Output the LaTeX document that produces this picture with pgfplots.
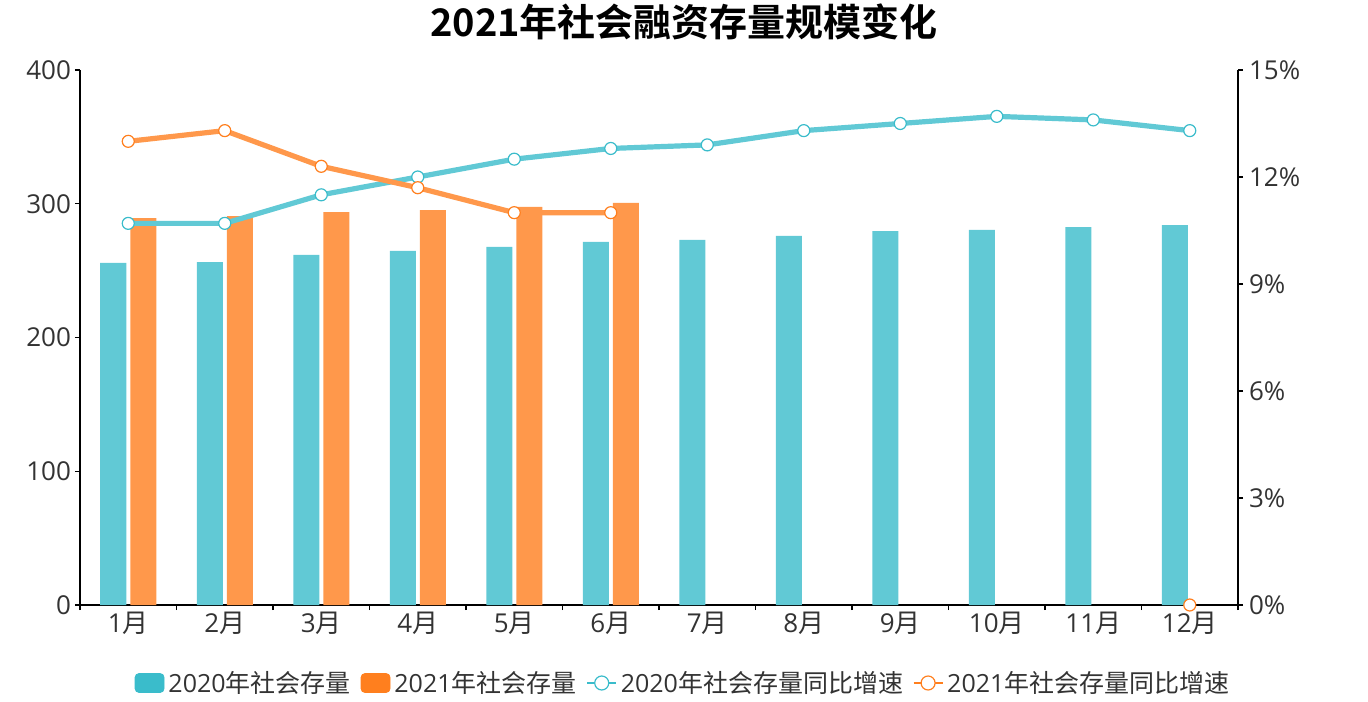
\documentclass[border=0pt]{standalone}
\usepackage{pgfplots}
\pgfplotsset{compat=1.18}
\usepackage{pgfplotstable}
\usepackage{fontspec}
\setmainfont{Open Sans}
\newfontfamily\cjk{Noto Sans CJK SC}
\newfontfamily\cjkb{Noto Sans CJK SC Bold}
\newcommand{\zh}[1]{{\cjk #1}}
\definecolor{cyanc}{HTML}{3ABCCB}
\definecolor{orangec}{HTML}{FF7F1E}
\definecolor{cyanb}{HTML}{61C9D5}
\definecolor{orangeb}{HTML}{FF984B}
\definecolor{txt}{HTML}{333333}

\pgfplotstableread{
x v
0 255.7
1 256.4
2 261.7
3 264.7
4 267.7
5 271.4
6 272.9
7 275.9
8 279.6
9 280.4
10 282.6
11 284.1
}\bartwenty
\pgfplotstableread{
x v
0 289.3
1 290.8
2 293.8
3 295.3
4 297.6
5 300.6
}\bartwentyone
\pgfplotstableread{
x v
0 10.7
1 10.7
2 11.5
3 12.0
4 12.5
5 12.8
6 12.9
7 13.3
8 13.5
9 13.7
10 13.6
11 13.3
}\growtwenty
\pgfplotstableread{
x v
0 13.0
1 13.3
2 12.3
3 11.7
4 11.0
5 11.0
6 nan
7 nan
8 nan
9 nan
10 nan
11 0
}\growtwentyone

\begin{document}
\begin{tikzpicture}
\useasboundingbox (-40pt,-48pt) rectangle (644pt,302.5pt);
\begin{axis}[
  at={(0,0)}, anchor=south west, scale only axis,
  width=579pt, height=267.5pt,
  xmin=-0.5, xmax=11.5, ymin=0, ymax=400,
  axis x line*=bottom, axis y line*=left,
  axis line style={black, line width=0.6pt},
  tick align=outside, major tick length=2.5pt,
  tick style={black, line width=0.6pt},
  xtick={-0.5,0.5,...,11.5}, xticklabels={},
  extra x ticks={0,1,...,11},
  extra x tick labels={1\zh{月},2\zh{月},3\zh{月},4\zh{月},5\zh{月},6\zh{月},7\zh{月},8\zh{月},9\zh{月},10\zh{月},11\zh{月},12\zh{月}},
  extra x tick style={major tick length=0pt},
  ytick={0,100,...,400},
  yticklabel style={xshift=1.5pt},
  /pgf/number format/assume math mode=true,
  ticklabel style={font=\fontsize{13}{15}\selectfont, text=txt},
]
\addplot[ybar, bar width=13pt, bar shift=-7.5pt, fill=cyanb, draw=none] table[x=x,y=v] {\bartwenty};
\addplot[ybar, bar width=13pt, bar shift=7.5pt, fill=orangeb, draw=none] table[x=x,y=v] {\bartwentyone};
\end{axis}
\begin{axis}[
  at={(0,0)}, anchor=south west, scale only axis,
  width=579pt, height=267.5pt,
  xmin=-0.5, xmax=11.5, ymin=0, ymax=15,
  axis x line=none, axis y line*=right,
  axis line style={black, line width=0.6pt},
  tick align=outside, major tick length=2.5pt,
  tick style={black, line width=0.6pt},
  ytick={0,3,...,15},
  yticklabel={\pgfmathprintnumber{\tick}\%},
  yticklabel style={xshift=-0.5pt},
  /pgf/number format/assume math mode=true,
  ticklabel style={font=\fontsize{13}{15}\selectfont, text=txt},
  clip=false,
  unbounded coords=jump,
  legend columns=4,
  legend style={at={(0.5216,-0.1458)}, anchor=center, draw=none, fill=none,
    font=\fontsize{12.5}{14}\selectfont, text=txt,
    /tikz/every even column/.append style={column sep=3pt}},
  legend cell align=left,
]
\addlegendimage{legend image code/.code={\fill[cyanc,rounded corners=2pt] (0pt,-4.75pt) rectangle (14.5pt,4.75pt);}}
\addlegendentry{2020\zh{年社会存量}}
\addlegendimage{legend image code/.code={\fill[orangec,rounded corners=2pt] (0pt,-4.75pt) rectangle (14.5pt,4.75pt);}}
\addlegendentry{2021\zh{年社会存量}}
\addlegendimage{legend image code/.code={\draw[cyanc, line width=0.6pt] (0pt,0pt)--(14.5pt,0pt); \draw[cyanc, fill=white, line width=0.6pt] (7.25pt,0pt) circle (3.5pt);}}
\addlegendentry{2020\zh{年社会存量同比增速}}
\addlegendimage{legend image code/.code={\draw[orangec, line width=0.6pt] (0pt,0pt)--(14.5pt,0pt); \draw[orangec, fill=white, line width=0.6pt] (7.25pt,0pt) circle (3.5pt);}}
\addlegendentry{2021\zh{年社会存量同比增速}}
\addplot[cyanb, line width=2.6pt, mark=*, mark size=3pt, mark options={draw=cyanc, fill=white, line width=0.6pt}, forget plot] table[x=x,y=v] {\growtwenty};
\addplot[orangeb, line width=2.6pt, mark=*, mark size=3pt, mark options={draw=orangec, fill=white, line width=0.6pt}, forget plot] table[x=x,y=v] {\growtwentyone};
\end{axis}
\node[font=\cjkb\fontsize{19}{22}\selectfont, anchor=center] at (302pt,291.5pt) {2021年社会融资存量规模变化};
\end{tikzpicture}
\end{document}
